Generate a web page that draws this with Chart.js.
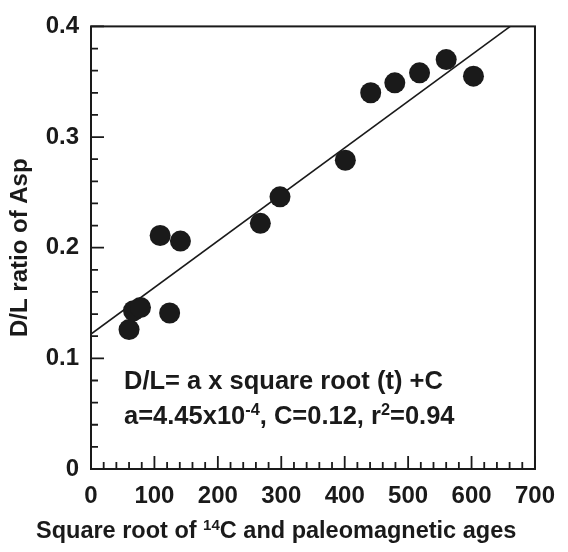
<!DOCTYPE html>
<html>
<head>
<meta charset="utf-8">
<script src="https://cdn.jsdelivr.net/npm/chart.js@4"></script>
<style>
  html, body { margin: 0; padding: 0; background: #fff; }
  #wrap { width: 568px; height: 552px; }
</style>
</head>
<body>
<div id="wrap"><canvas id="dlChart" width="568" height="552"></canvas></div>
<script>
// square root of age vs D/L ratio of Asp
const sqrtAge = [60, 67, 78, 109, 124, 141, 267, 298, 401, 441, 479, 518, 560, 603];
const dlRatio = [0.126, 0.143, 0.146, 0.211, 0.141, 0.206, 0.222, 0.246, 0.279, 0.340, 0.349, 0.358, 0.370, 0.355];

// regression line as drawn (ends on the top border)
const fitX = [0, 661];
const fitY = [0.122, 0.4];

const xMin = 0, xMax = 700, xStep = 100, xMinor = 20;
const yMin = 0, yMax = 0.4, yStep = 0.1, yMinor = 0.02;

const FONT = "'Liberation Sans', Arial, Helvetica, sans-serif";
const INK = '#1a1a1a';

// draws a run of [text, isSuperscript] pieces starting at x
function drawRich(ctx, parts, x, y, size) {
    parts.forEach(([txt, sup]) => {
        const s = sup ? size * 0.64 : size;
        ctx.font = `bold ${s}px ${FONT}`;
        ctx.fillText(txt, x, sup ? y - size * 0.36 : y);
        x += ctx.measureText(txt).width;
    });
}

const frameAndTicks = {
    id: 'frameAndTicks',
    afterDatasetsDraw(chart) {
        const { ctx, chartArea: a, scales: { x, y } } = chart;
        ctx.save();
        ctx.strokeStyle = INK;
        ctx.lineWidth = 2;
        ctx.strokeRect(a.left, a.top, a.right - a.left, a.bottom - a.top);

        // inward ticks on left and bottom
        ctx.lineWidth = 1.8;
        ctx.beginPath();
        const nx = Math.round((xMax - xMin) / xMinor);
        for (let i = 0; i <= nx; i++) {
            const v = xMin + i * xMinor;
            const px = x.getPixelForValue(v);
            const len = (v % xStep === 0) ? 13 : 7;
            ctx.moveTo(px, a.bottom);
            ctx.lineTo(px, a.bottom - len);
        }
        const ny = Math.round((yMax - yMin) / yMinor);
        for (let i = 0; i <= ny; i++) {
            const v = yMin + i * yMinor;
            const py = y.getPixelForValue(v);
            const len = (i % 5 === 0) ? 13 : 7;
            ctx.moveTo(a.left, py);
            ctx.lineTo(a.left + len, py);
        }
        ctx.stroke();
        ctx.restore();
    },
    afterDraw(chart) {
        const { ctx } = chart;
        ctx.save();
        ctx.fillStyle = INK;
        ctx.textBaseline = 'alphabetic';
        ctx.textAlign = 'left';
        // x axis title with superscript 14
        drawRich(ctx, [['Square root of ', false], ['14', true], ['C and paleomagnetic ages', false]], 36, 538, 23.5);
        // equation box
        drawRich(ctx, [['D/L= a x square root (t) +C', false]], 124, 389, 25.5);
        drawRich(ctx, [['a=4.45x10', false], ['-4', true], [', C=0.12, r', false], ['2', true], ['=0.94', false]], 124, 424, 25.5);
        ctx.restore();
    }
};

new Chart(document.getElementById('dlChart'), {
    type: 'scatter',
    data: {
        datasets: [
            {
                label: 'D/L',
                data: sqrtAge.map((v, i) => ({ x: v, y: dlRatio[i] })),
                backgroundColor: INK,
                borderWidth: 0,
                pointRadius: 10.5
            },
            {
                label: 'fit',
                type: 'line',
                data: fitX.map((v, i) => ({ x: v, y: fitY[i] })),
                borderColor: INK,
                borderWidth: 1.6,
                pointRadius: 0,
                fill: false
            }
        ]
    },
    options: {
        responsive: false,
        animation: false,
        layout: { padding: { top: 22, right: 31, left: 0, bottom: 0 } },
        plugins: { legend: { display: false }, tooltip: { enabled: false } },
        scales: {
            x: {
                type: 'linear',
                min: xMin, max: xMax,
                grid: { display: false, drawTicks: false },
                border: { display: false },
                ticks: { stepSize: xStep, padding: 13, color: INK, font: { family: FONT, size: 24, weight: 'bold' } },
                afterFit: s => { s.height = 83; }
            },
            y: {
                type: 'linear',
                min: yMin, max: yMax,
                grid: { display: false, drawTicks: false },
                border: { display: false },
                ticks: { stepSize: yStep, padding: 12, color: INK, font: { family: FONT, size: 24, weight: 'bold' } },
                title: {
                    display: true,
                    text: 'D/L ratio of Asp',
                    color: INK,
                    padding: { top: 6, bottom: 0 },
                    font: { family: FONT, size: 24, weight: 'bold' }
                },
                afterFit: s => { s.width = 91; }
            }
        }
    },
    plugins: [frameAndTicks]
});
</script>
</body>
</html>
